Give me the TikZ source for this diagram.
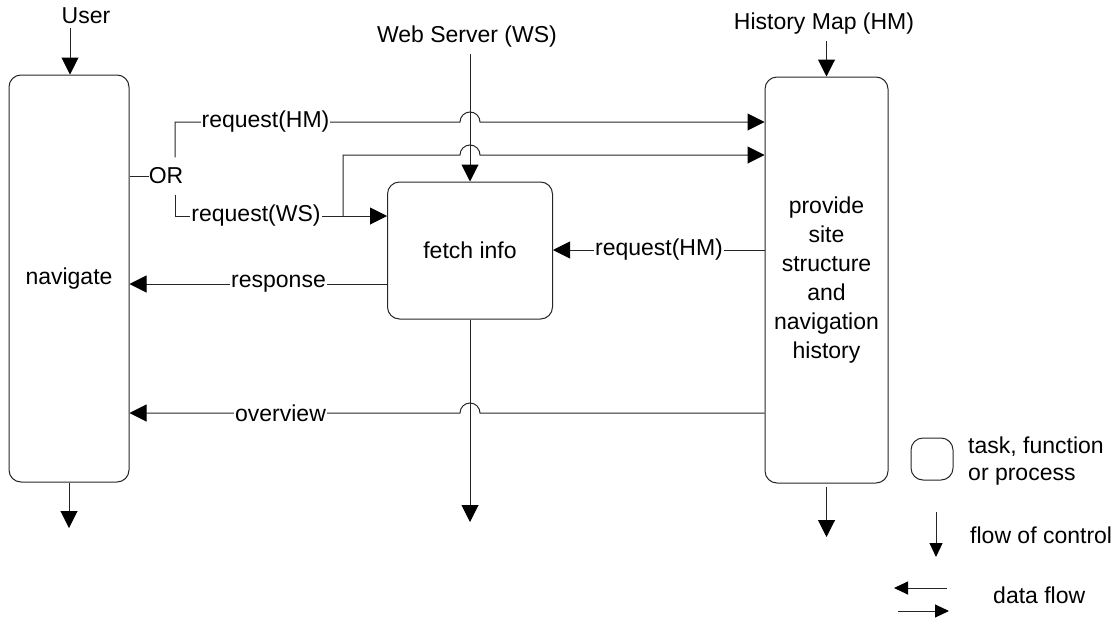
\documentclass[tikz,border=0pt]{standalone}
\usepackage{fontspec}
\setmainfont{Liberation Sans}
\usetikzlibrary{arrows.meta}
\begin{document}
\begin{tikzpicture}[x=1pt,y=-1pt,
  every node/.style={font=\fontsize{23}{29}\selectfont},
  line/.style={draw=black!85, line width=1pt},
  flow/.style={line, -{Triangle[length=17pt,width=17pt,color=black]}},
  legflow/.style={line, -{Triangle[length=14pt,width=13pt,color=black]}},
  task/.style={line, rounded corners=12pt, align=center, inner sep=0pt},
  lbl/.style={fill=white, inner xsep=1pt, inner ysep=2pt},
  legtext/.style={anchor=west, align=left, inner sep=0pt},
]
\useasboundingbox (0,0) rectangle (1118,621);

% tasks
\node[task, minimum width=120pt, minimum height=407pt] (nav) at (69,278.5) {navigate};
\node[task, minimum width=165pt, minimum height=137pt] (fetch) at (470,250.5) {fetch info};
\node[task, minimum width=123pt, minimum height=406pt] (prov) at (826.5,280)
  {provide\\site\\structure\\and\\navigation\\history};

% sources of control
\node (user) at (86,16) {User};
\node (ws) at (467,37) {Web Server (WS)};
\node (hm) at (824,24) {History Map (HM)};

\coordinate (userin) at (70,28);
\coordinate (wsin) at (470,54);
\coordinate (hmin) at (826.5,41);
\coordinate (navout) at (69,528);
\coordinate (fetchout) at (470,522);
\coordinate (provout) at (826.5,537);

\draw[flow] (userin) -- (userin |- nav.north);
\draw[flow] (wsin) -- (fetch.north);
\draw[flow] (hmin) -- (prov.north);
\draw[flow] (nav.south) -- (navout);
\draw[flow] (fetch.south) -- (fetchout);
\draw[flow] ([yshift=-3pt]prov.south) -- (provout);

% rows of the data flows
\coordinate (hmrow) at (0,122);
\coordinate (brrow) at (0,155);
\coordinate (wsrow) at (0,216);
\coordinate (midrow) at (0,250);
\coordinate (resprow) at (0,284);
\coordinate (ovrow) at (0,413);
\coordinate (fork) at (175,176);
\coordinate (branch) at (343,216);

% OR split
\node[inner xsep=0pt, inner ysep=0pt, minimum height=37pt] (or) at (166,176) {OR};
\draw[line] (nav.east |- or) -- (or.west);
\draw[flow] (or.north -| fork) |- ([xshift=-10pt]fetch.north |- hmrow)
  arc[start angle=180, end angle=0, radius=10pt] -- (prov.west |- hmrow);
\draw[flow] (or.south -| fork) |- (fetch.west |- wsrow);
\draw[flow] (branch) |- ([xshift=-10pt]fetch.north |- brrow)
  arc[start angle=180, end angle=0, radius=10pt] -- (prov.west |- brrow);

% returning flows
\draw[flow] (fetch.west |- resprow) -- (nav.east |- resprow);
\draw[flow] (prov.west |- midrow) -- (fetch.east |- midrow);
\draw[flow] (prov.west |- ovrow) -- ([xshift=10pt]fetch.south |- ovrow)
  arc[start angle=0, end angle=180, radius=10pt] -- (nav.east |- ovrow);

% flow labels
\node[lbl] (lreqhm) at (265.5,122) {request(HM)};
\node[lbl] (lreqws) at (256,216) {request(WS)};
\node[lbl] (lresp) at (278.5,284) {response};
\node[lbl] (lover) at (280.5,413) {overview};
\node[lbl] (lreqhm2) at (659,250) {request(HM)};

% legend
\node[task, minimum width=42pt, minimum height=42pt] (legbox) at (932,459) {};
\node[legtext] (legtask) at (968,461.5) {task, function\\[-2pt]or process};
\coordinate (legc1) at (936,512);
\coordinate (legc2) at (936,557);
\draw[legflow] (legc1) -- (legc2);
\node[legtext] (legctl) at (970,535) {flow of control};
\coordinate (legl1) at (947,588);
\coordinate (legl2) at (894,588);
\coordinate (legr1) at (898,611);
\coordinate (legr2) at (949,611);
\draw[legflow] (legl1) -- (legl2);
\draw[legflow] (legr1) -- (legr2);
\node[legtext] (legdata) at (993,595) {data flow};
\end{tikzpicture}
\end{document}
